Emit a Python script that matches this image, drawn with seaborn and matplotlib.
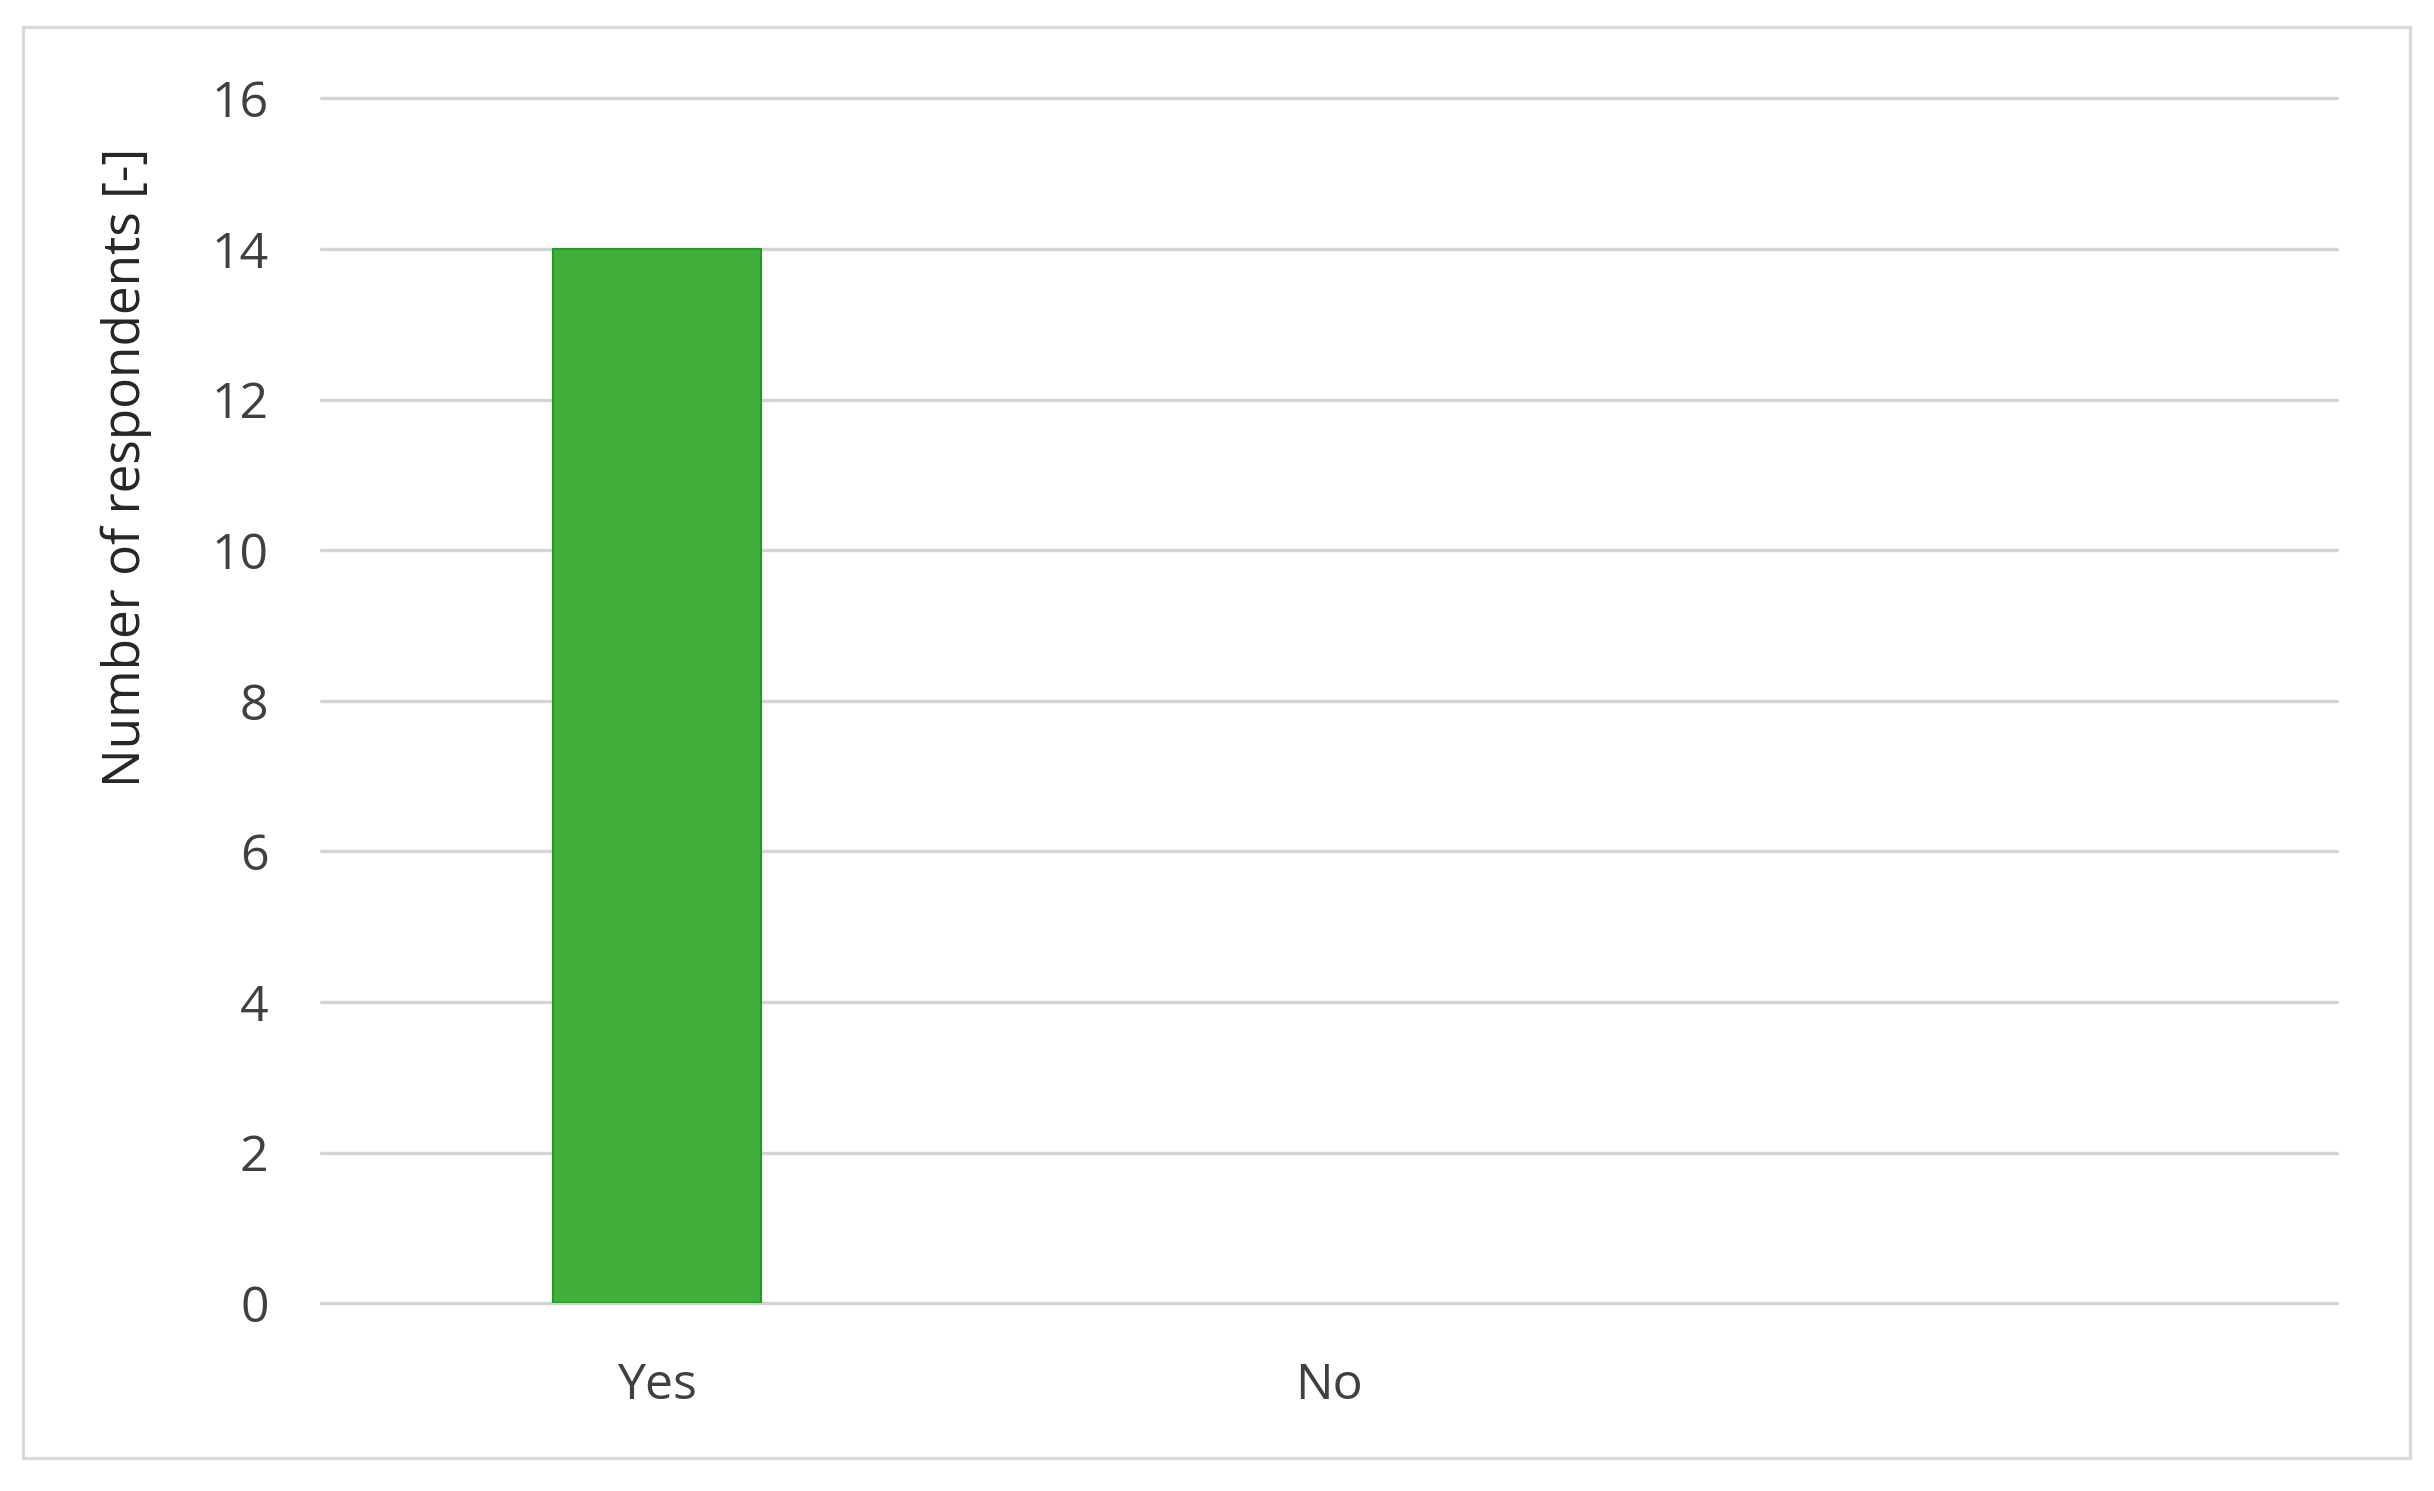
import matplotlib
matplotlib.use("Agg")
import matplotlib.pyplot as plt
import seaborn as sns
import pandas as pd
from matplotlib.patches import Rectangle

categories = ["Yes", "No", ""]
values = [14, 0, float("nan")]
y_ticks = [0, 2, 4, 6, 8, 10, 12, 14, 16]
y_label = "Number of respondents [-]"

sns.set_theme(style="white")
plt.rcParams["font.family"] = ["Open Sans", "DejaVu Sans"]

df = pd.DataFrame({"answer": categories, "count": values})

fig = plt.figure(figsize=(24.34, 14.91), dpi=100)
ax = fig.add_axes([0.132, 0.126, 0.828, 0.808])

sns.barplot(data=df, x="answer", y="count", order=categories, ax=ax,
            color="#44ae3c", edgecolor="#1f9e1f", linewidth=1.5,
            width=0.31, saturation=1)
for p in ax.patches:
    if not (p.get_height() > 0):
        p.set_visible(False)

ax.set_ylim(0, 16)
ax.set_xlim(-0.5, 2.5)
ax.set_yticks(y_ticks)
ax.yaxis.grid(True, color="#d4d4d4", linewidth=2.4)
ax.set_axisbelow(True)
for line in ax.get_ygridlines():
    line.set_clip_on(False)
for s in ax.spines.values():
    s.set_visible(False)
ax.tick_params(axis="both", length=0, labelsize=36, colors="#404040")
ax.tick_params(axis="y", pad=38)
ax.tick_params(axis="x", pad=42)
ax.set_xlabel("")
ax.set_ylabel(y_label, fontsize=37, color="#262626")
ax.yaxis.set_label_coords(-0.084, 0.694)

fig.add_artist(Rectangle((0.0096, 0.022), 0.9806, 0.96, transform=fig.transFigure,
                         fill=False, edgecolor="#d9d9d9", linewidth=2.3))

fig.savefig("out.png", dpi=100, facecolor="white")
